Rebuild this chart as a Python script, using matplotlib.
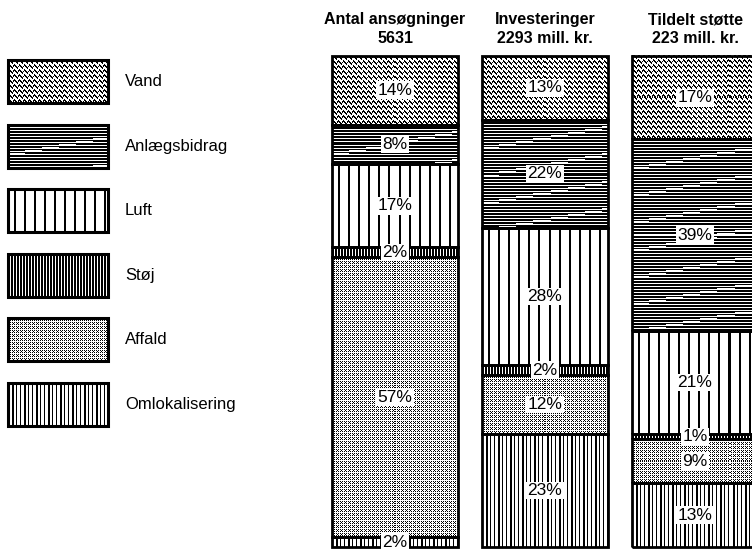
import numpy as np
import matplotlib
matplotlib.use("Agg")
import matplotlib.pyplot as plt
from matplotlib.patches import Rectangle

plt.rcParams["font.family"] = ["Liberation Sans", "DejaVu Sans"]

# categories listed top to bottom, as in the legend and in the bars
categories = ["Vand", "Anlægsbidrag", "Luft", "Støj", "Affald", "Omlokalisering"]
textures = ["wave", "hlines", "vwide", "vdense", "stipple", "vfine"]

bar_titles = [
    "Antal ansøgninger\n5631",
    "Investeringer\n2293 mill. kr.",
    "Tildelt støtte\n223 mill. kr.",
]
antal = [14, 8, 17, 2, 57, 2]
investeringer = [13, 22, 28, 2, 12, 23]
stoette = [17, 39, 21, 1, 9, 13]
series = [antal, investeringer, stoette]


def texture(kind, h, w):
    """Black/white fill pattern, one array cell per screen pixel (1 = white)."""
    yy, xx = np.mgrid[0:h, 0:w]
    if kind == "wave":
        black = ((yy + 1.3 * np.sin(2 * np.pi * xx / 5.0)) % 5.0) < 1.9
    elif kind == "hlines":
        black = (yy % 3) != 2
        black &= ~(((xx // 17 + yy // 3) % 9 == 0) & (yy % 3 == 1))
    elif kind == "vwide":
        black = ((xx + 4) % 10) < 2
    elif kind == "vdense":
        black = (xx % 3) < 2
    elif kind == "stipple":
        black = ((xx % 2 == 0) & (yy % 2 == 0)) | ((xx % 4 == 1) & (yy % 4 == 1))
    else:  # vfine
        black = ((xx % 4) == 0) | ((xx % 12) == 5)
    return np.where(black, 0.0, 1.0)


W, H = 752, 549
fig = plt.figure(figsize=(W / 100, H / 100), dpi=100)

# ---- bars ---------------------------------------------------------------
ax = fig.add_axes([320 / W, 0, 432 / W, 493 / H])
ax.set_xlim(-0.5, 2.38)
ax.set_ylim(-0.41, 100)
ax.set_autoscale_on(False)
ax.axis("off")

xs = np.arange(len(series))
for i, vals in enumerate(series):
    # stack from the bottom: last category sits on the baseline
    bottoms = np.cumsum([0] + vals[::-1])[:-1][::-1]
    bars = ax.bar([xs[i]] * len(vals), vals, bottom=bottoms, width=0.835,
                  facecolor="none", edgecolor="black", linewidth=2.0,
                  zorder=3, clip_on=False)
    for rect, kind, v in zip(bars, textures, vals):
        x0, y0 = rect.get_x(), rect.get_y()
        x1, y1 = x0 + rect.get_width(), y0 + rect.get_height()
        (px0, py0), (px1, py1) = ax.transData.transform([(x0, y0), (x1, y1)])
        pw, ph = max(int(round(px1 - px0)), 1), max(int(round(py1 - py0)), 1)
        ax.imshow(texture(kind, ph, pw), cmap="gray", vmin=0, vmax=1,
                  extent=(x0, x1, y0, y1), aspect="auto",
                  interpolation="nearest", zorder=1, clip_on=False)
        ax.text(xs[i], y0 + rect.get_height() / 2, f"{v}%", ha="center",
                va="center", fontsize=12.5, zorder=4,
                bbox=dict(facecolor="white", edgecolor="none", pad=1.0))
    ax.text(xs[i], 102.6, bar_titles[i], ha="center", va="baseline",
            fontsize=11.5, fontweight="bold", linespacing=1.35,
            multialignment="center")

# ---- legend -------------------------------------------------------------
lax = fig.add_axes([0, 0, 320 / W, 1])
lax.set_xlim(0, 320)
lax.set_ylim(H, 0)
lax.set_autoscale_on(False)
lax.axis("off")
for j, (name, kind) in enumerate(zip(categories, textures)):
    top = 60 + j * 64.6
    lax.imshow(texture(kind, 43, 100), cmap="gray", vmin=0, vmax=1,
               extent=(8, 108, top + 43, top), aspect="auto",
               interpolation="nearest", zorder=1)
    lax.add_patch(Rectangle((8, top), 100, 43, facecolor="none",
                            edgecolor="black", linewidth=2.2, zorder=2))
    lax.text(125, top + 21.5, name, ha="left", va="center", fontsize=12)

fig.savefig("out.png", dpi=100)
